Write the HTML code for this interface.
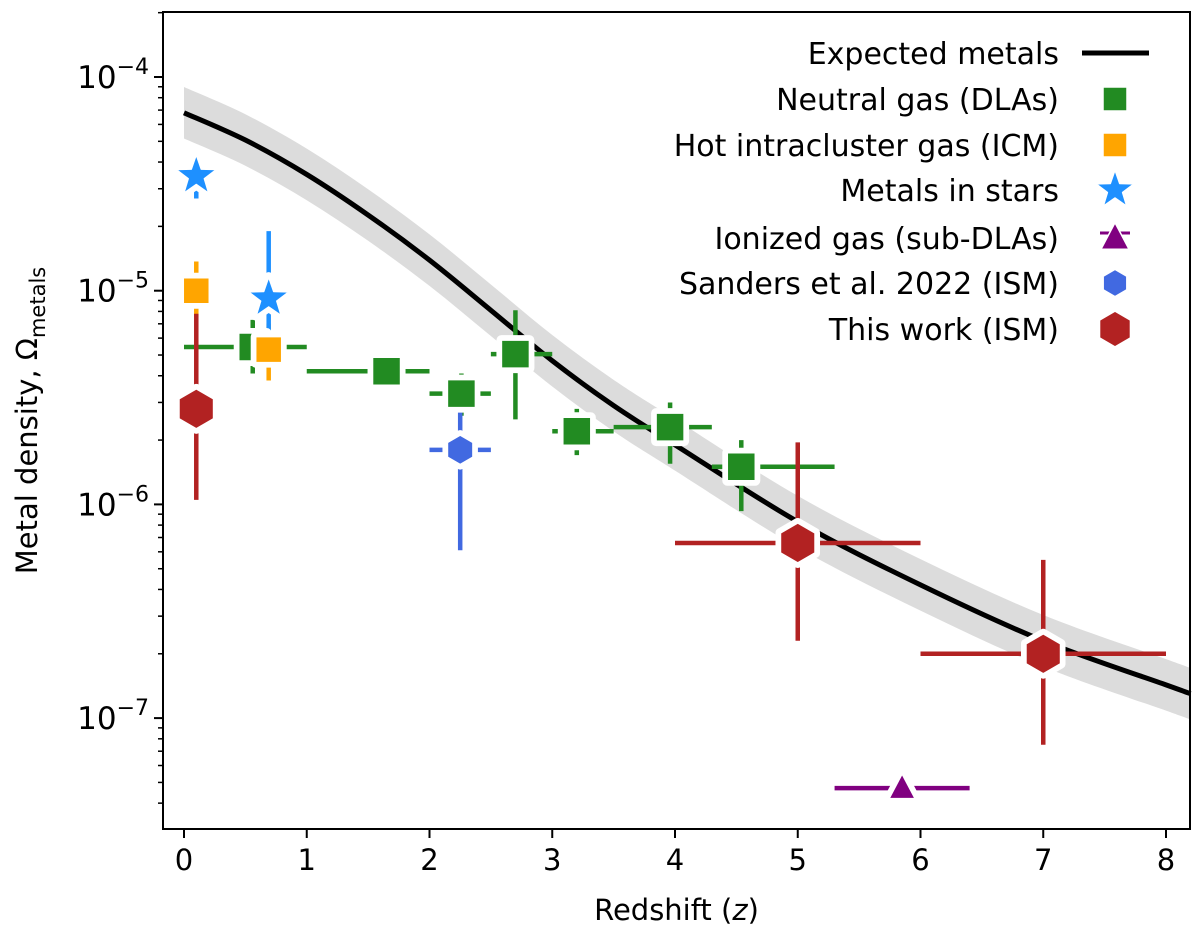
<!DOCTYPE html>
<html><head><meta charset="utf-8"><style>
body{margin:0;background:#fff}
svg text{font-family:"DejaVu Sans","Liberation Sans",sans-serif;fill:#000}
</style></head><body>
<svg id="chart" width="1200" height="938" xmlns="http://www.w3.org/2000/svg">
<g id="band"></g>
<g id="curve"></g>
<g id="errs"></g>
<g id="marks"></g>
<g id="axes"></g>
<g id="legend"></g>
</svg>
<script>
const curveZ=[0,0.5,1,1.5,2,2.5,3,3.5,4,5,6,7,8,8.2];
const curveV=[6.8e-5,5.07e-5,3.5e-5,2.26e-5,1.39e-5,8.1e-6,4.7e-6,2.9e-6,1.9e-6,8.3e-7,4.2e-7,2.3e-7,1.43e-7,1.3e-7];
const bandFactor=1.32;
// [z, value, zlo, zhi, vlo, vhi]
const dlaData=[[0.56,5.45e-6,0,1,4.1e-6,7.3e-6],[1.65,4.2e-6,1,2,3.5e-6,5.1e-6],[2.26,3.3e-6,2,2.5,2.6e-6,4.1e-6],[2.7,5.05e-6,2.5,3,2.5e-6,8.1e-6],[3.2,2.2e-6,3,3.5,1.7e-6,2.8e-6],[3.96,2.3e-6,3.5,4.3,1.55e-6,3.0e-6],[4.54,1.5e-6,4.3,5.3,0.93e-6,2.0e-6]];
const icmData=[[0.1,1.0e-5,0.1,0.1,7.5e-6,1.37e-5],[0.69,5.3e-6,0.69,0.69,3.8e-6,7.0e-6]];
const starData=[[0.1,3.44e-5,0.1,0.1,2.7e-5,4.3e-5],[0.69,9.2e-6,0.69,0.69,5.5e-6,1.9e-5]];
const subDlaData=[[5.85,4.7e-8,5.3,6.4,4.7e-8,4.7e-8]];
const sandersData=[[2.25,1.8e-6,2,2.5,6.1e-7,2.8e-6]];
const thisWorkData=[[0.1,2.8e-6,0.1,0.1,1.05e-6,7.8e-6],[5.0,6.6e-7,4,6,2.3e-7,1.95e-6],[7.0,2.0e-7,6,8,7.5e-8,5.5e-7]];
const xTicks=[0,1,2,3,4,5,6,7,8];
const yTickExp=[-4,-5,-6,-7];
const legendLabels=["Expected metals","Neutral gas (DLAs)","Hot intracluster gas (ICM)","Metals in stars","Ionized gas (sub-DLAs)","Sanders et al. 2022 (ISM)","This work (ISM)"];

const L=163,R=1190,T=12,B=829;
const X=z=>184+(z)*122.75;
const Y=v=>77+(-4-Math.log10(v))*213.7;
const NS="http://www.w3.org/2000/svg";
function mk(tag,attrs,parent){const e=document.createElementNS(NS,tag);for(const k in attrs)e.setAttribute(k,attrs[k]);parent.appendChild(e);return e;}
const $=id=>document.getElementById(id);

function smooth(pts){
  let d=`M${pts[0][0]},${pts[0][1]}`;
  for(let i=0;i<pts.length-1;i++){
    const p0=pts[Math.max(0,i-1)],p1=pts[i],p2=pts[i+1],p3=pts[Math.min(pts.length-1,i+2)];
    const c1=[p1[0]+(p2[0]-p0[0])/6,p1[1]+(p2[1]-p0[1])/6];
    const c2=[p2[0]-(p3[0]-p1[0])/6,p2[1]-(p3[1]-p1[1])/6];
    d+=` C${c1[0]},${c1[1]} ${c2[0]},${c2[1]} ${p2[0]},${p2[1]}`;
  }
  return d;
}
const upPts=curveZ.map((z,i)=>[X(z),Y(curveV[i]*bandFactor)]);
const dnPts=curveZ.map((z,i)=>[X(z),Y(curveV[i]/bandFactor)]).reverse();
const bd=smooth(upPts)+' L'+smooth(dnPts).slice(1)+' Z';
let bp=mk('path',{d:bd,fill:'#dcdcdc'},$('band'));


let cp=mk('path',{d:smooth(curveZ.map((z,i)=>[X(z),Y(curveV[i])])),fill:'none',stroke:'#000','stroke-width':5},$('curve'));



function shape(type,cx,cy,s,fill,sw,stroke,parent){
  let e;
  if(type==='sq'){e=mk('rect',{x:cx-s,y:cy-s,width:2*s,height:2*s},parent);}
  else if(type==='hex'){let p=[];for(let i=0;i<6;i++){const a=Math.PI/3*i-Math.PI/2;p.push((cx+s*1.05*Math.cos(a))+","+(cy+s*1.05*Math.sin(a)));}e=mk('polygon',{points:p.join(' ')},parent);}
  else if(type==='star'){let p=[];for(let i=0;i<10;i++){const r=i%2?s*0.5:s*1.25;const a=Math.PI/5*i-Math.PI/2;p.push((cx+r*Math.cos(a))+","+(cy+r*Math.sin(a)));}e=mk('polygon',{points:p.join(' ')},parent);}
  else if(type==='tri'){e=mk('polygon',{points:`${cx},${cy-s*1.1} ${cx+s},${cy+s*0.8} ${cx-s},${cy+s*0.8}`},parent);}
  e.setAttribute('fill',fill);e.setAttribute('stroke',stroke);e.setAttribute('stroke-width',sw);e.setAttribute('stroke-linejoin','round');
  return e;
}
const series=[
 {d:dlaData,c:'#228b22',t:'sq',s:14,n:'dla'},
 {d:icmData,c:'#ffa500',t:'sq',s:13,n:'icm'},
 {d:starData,c:'#1e90ff',t:'star',s:17,n:'stars'},
 {d:subDlaData,c:'#800080',t:'tri',s:13,n:'sub-dla'},
 {d:sandersData,c:'#4169e1',t:'hex',s:14,n:'sanders'},
 {d:thisWorkData,c:'#b22222',t:'hex',s:19,n:'this-work'}];
series.forEach(S=>S.d.forEach((p,i)=>{
  const g=mk('g',{},$('errs'));
  
  
  if(p[2]!==p[3]) mk('line',{x1:X(p[2]),x2:X(p[3]),y1:Y(p[1]),y2:Y(p[1]),stroke:S.c,'stroke-width':4.5},g);
  if(p[4]!==p[5]) mk('line',{x1:X(p[0]),x2:X(p[0]),y1:Y(p[4]),y2:Y(p[5]),stroke:S.c,'stroke-width':4.5},g);
}));
series.forEach(S=>S.d.forEach((p,i)=>{
  const g=mk('g',{},$('marks'));
  
  
  shape(S.t,X(p[0]),Y(p[1]),S.s,'#fff',10,'#fff',g);
  shape(S.t,X(p[0]),Y(p[1]),S.s,S.c,1.5,'#fff',g);
}));

// axes
const ax=$('axes');
let fr=mk('rect',{x:L,y:T,width:R-L,height:B-T,fill:'none',stroke:'#000','stroke-width':2},ax);


xTicks.forEach(z=>{
  mk('line',{x1:X(z),x2:X(z),y1:B,y2:B+9,stroke:'#000','stroke-width':2},ax);
  const t=mk('text',{x:X(z),y:B+41,'font-size':29,'text-anchor':'middle'},ax);t.textContent=z;
  
  
});
for(let e=-8;e<=-4;e++){for(let m=1;m<10;m++){const y=Y(m*Math.pow(10,e));if(y<T||y>B)continue;
  mk('line',{x1:L-(m===1?9:5),x2:L,y1:y,y2:y,stroke:'#000','stroke-width':m===1?2:1.5},ax);}}
yTickExp.forEach(e=>{
  const t=mk('text',{x:L-14,y:Y(Math.pow(10,e))+11,'font-size':31,'text-anchor':'end'},ax);
  t.innerHTML='10<tspan dy="-14" font-size="22">−'+(-e)+'</tspan>';
  
  
});
let xt=mk('text',{x:(L+R)/2,y:920,'font-size':29,'text-anchor':'middle'},ax);
xt.innerHTML='Redshift (<tspan font-style="italic">z</tspan>)';


let yt=mk('text',{x:0,y:0,'font-size':29,'text-anchor':'middle',transform:`translate(37,${(T+B)/2}) rotate(-90)`},ax);
yt.innerHTML='Metal density, Ω<tspan dy="8" font-size="21">metals</tspan>';



// legend
const lg=$('legend');
const legY=[53,99,145,190,238,283,329];
const legMark=[null,['sq','#228b22',12],['sq','#ffa500',12],['star','#1e90ff',16],['tri','#800080',14],['hex','#4169e1',13],['hex','#b22222',17]];
legendLabels.forEach((lab,i)=>{
  const g=mk('g',{},lg);
  
  
  const t=mk('text',{x:1059,y:legY[i]+11,'font-size':30,'text-anchor':'end'},g);t.textContent=lab;
  if(i===0) mk('line',{x1:1082,x2:1149,y1:legY[i],y2:legY[i],stroke:'#000','stroke-width':5},g);
  else { if(i===4) mk('line',{x1:1100,x2:1130,y1:legY[i]-5,y2:legY[i]-5,stroke:'#800080','stroke-width':3},g);
    shape(legMark[i][0],1115,legY[i],legMark[i][2],legMark[i][1],1.5,'#fff',g);}
});
</script>
</body></html>
